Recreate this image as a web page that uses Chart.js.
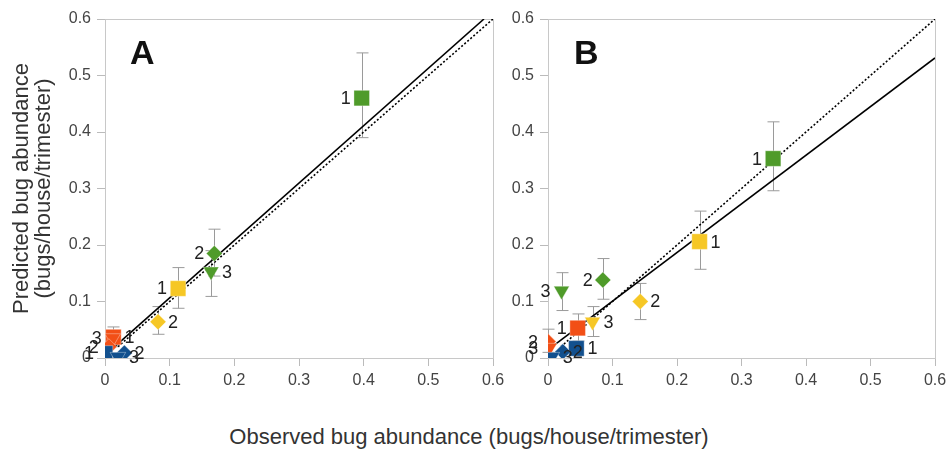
<!DOCTYPE html>
<html>
<head>
<meta charset="utf-8">
<script src="https://cdn.jsdelivr.net/npm/chart.js@4"></script>
<style>
  body { margin: 0; background: #fff; width: 947px; height: 451px; overflow: hidden; position: relative;
         font-family: "Liberation Sans", Arial, sans-serif; }
  canvas { position: absolute; top: 0; }
  #chartA { left: 0; }
  #chartB { left: 440px; }
  .panel { position: absolute; font-weight: bold; font-size: 34px; line-height: 34px; color: #111; }
  #xtitle { position: absolute; left: 0; width: 938px; top: 426px; text-align: center;
            font-size: 22px; line-height: 22px; color: #333; }
</style>
</head>
<body>
<canvas id="chartA" width="520" height="400"></canvas>
<canvas id="chartB" width="507" height="400"></canvas>
<div class="panel" style="left:130px;top:35px">A</div>
<div class="panel" style="left:574px;top:35px">B</div>
<div id="xtitle">Observed bug abundance (bugs/house/trimester)</div>

<script>
// ---- panel A ----
const aObs   = [0.397, 0.169, 0.164, 0.113, 0.082, 0.013, 0.012, 0.006, 0.000, 0.030, 0.020];
const aPred  = [0.460, 0.185, 0.153, 0.123, 0.064, 0.037, 0.035, 0.020, 0.008, 0.009, 0.002];
const aLow   = [0.390, 0.145, 0.109, 0.088, 0.042, 0.020, null, null, null, null, null];
const aHigh  = [0.540, 0.228, 0.190, 0.160, 0.091, 0.055, null, null, null, null, null];
const aGroup = ['green', 'green', 'green', 'yellow', 'yellow', 'orange', 'orange', 'orange', 'blue', 'blue', 'blue'];
const aKind  = [1, 2, 3, 1, 2, 1, 3, 2, 1, 2, 3];
const aSide  = ['l', 'l', 'r', 'l', 'r', 'r', 'l', 'l', 'l', 'r', 'r'];
const aFitX  = [0.015, 0.586];
const aFitY  = [0.020, 0.600];

// ---- panel B ----
const bObs   = [0.349, 0.085, 0.021, 0.235, 0.143, 0.069, 0.046, 0.000, 0.002, 0.044, 0.023, 0.006];
const bPred  = [0.353, 0.138, 0.119, 0.206, 0.100, 0.064, 0.053, 0.029, 0.018, 0.017, 0.011, 0.002];
const bLow   = [0.296, 0.104, 0.084, 0.157, 0.068, 0.038, 0.030, 0.010, null, null, null, null];
const bHigh  = [0.418, 0.176, 0.151, 0.260, 0.132, 0.091, 0.078, 0.051, null, null, null, null];
const bGroup = ['green', 'green', 'green', 'yellow', 'yellow', 'yellow', 'orange', 'orange', 'orange', 'blue', 'blue', 'blue'];
const bKind  = [1, 2, 3, 1, 2, 3, 1, 2, 3, 1, 2, 3];
const bSide  = ['l', 'l', 'l', 'r', 'r', 'r', 'l', 'l', 'l', 'r', 'r', 'r'];
const bFitX  = [0.005, 0.600];
const bFitY  = [0.019, 0.531];

// 1:1 line, both panels
const oneX = [0.02, 0.60];
const oneY = [0.02, 0.60];

const COLOUR = { green: '#4f9b2a', yellow: '#f6c725', orange: '#f24f16', blue: '#12508e' };
// kind 1 = square, 2 = diamond, 3 = triangle (down)
const KIND = {
    1: { style: 'rect',     r: 11, rot: 0,   gap: 11 },
    2: { style: 'rectRot',  r: 8,  rot: 0,   gap: 10 },
    3: { style: 'triangle', r: 9,  rot: 180, gap: 11 }
};

const pts = (xs, ys) => xs.map((x, i) => ({ x: x, y: ys[i] }));

// frame, error bars and the small numbers next to the points
const extras = {
    id: 'extras',
    beforeDatasetsDraw(chart) {
        const { ctx, chartArea: a, scales } = chart;
        const o = chart.options.plugins.extras;
        ctx.save();
        ctx.strokeStyle = '#c8c8c8';
        ctx.lineWidth = 1;
        ctx.strokeRect(Math.round(a.left) + 0.5, Math.round(a.top) + 0.5,
                       Math.round(a.right - a.left), Math.round(a.bottom - a.top));
        ctx.strokeStyle = '#9a9a9a';
        o.low.forEach((lo, i) => {
            if (lo === null) return;
            const x = Math.round(scales.x.getPixelForValue(o.obs[i])) + 0.5;
            const y1 = scales.y.getPixelForValue(lo);
            const y2 = scales.y.getPixelForValue(o.high[i]);
            ctx.beginPath();
            ctx.moveTo(x, y1); ctx.lineTo(x, y2);
            ctx.moveTo(x - 6, y1); ctx.lineTo(x + 6, y1);
            ctx.moveTo(x - 6, y2); ctx.lineTo(x + 6, y2);
            ctx.stroke();
        });
        ctx.restore();
    },
    afterDatasetsDraw(chart) {
        const { ctx, scales } = chart;
        const o = chart.options.plugins.extras;
        ctx.save();
        ctx.font = '18px "Liberation Sans", Arial, sans-serif';
        ctx.fillStyle = '#222';
        ctx.textBaseline = 'middle';
        o.kind.forEach((k, i) => {
            const x = scales.x.getPixelForValue(o.obs[i]);
            const y = scales.y.getPixelForValue(o.pred[i]);
            const g = KIND[k].gap;
            if (o.side[i] === 'l') { ctx.textAlign = 'right'; ctx.fillText(String(k), x - g, y + 1); }
            else { ctx.textAlign = 'left'; ctx.fillText(String(k), x + g, y + 1); }
        });
        ctx.restore();
    }
};

// no automatic room for overflowing tick labels, the layout padding decides
function noPad(s) { s.paddingLeft = 0; s.paddingRight = 0; s.paddingTop = 0; s.paddingBottom = 0; }

function makeChart(id, d, yWidth, padRight, yTitle) {
    const tickFont = { family: '"Liberation Sans", Arial, sans-serif', size: 16 };
    return new Chart(document.getElementById(id), {
        type: 'scatter',
        data: {
            datasets: [
                {
                    type: 'line', data: pts(d.fitX, d.fitY), order: 3,
                    borderColor: '#000', borderWidth: 1.6, pointRadius: 0
                },
                {
                    type: 'line', data: pts(oneX, oneY), order: 2,
                    borderColor: '#000', borderWidth: 1.6, borderDash: [2, 2], pointRadius: 0
                },
                {
                    data: pts(d.obs, d.pred), order: 1,
                    pointStyle: d.kind.map(k => KIND[k].style),
                    pointRadius: d.kind.map(k => KIND[k].r),
                    rotation: d.kind.map(k => KIND[k].rot),
                    backgroundColor: d.group.map(g => COLOUR[g]),
                    borderColor: 'rgba(255,255,255,0.35)',
                    borderWidth: 1
                }
            ]
        },
        plugins: [extras],
        options: {
            responsive: false,
            animation: false,
            devicePixelRatio: 1,
            layout: { padding: { top: 19, right: padRight, bottom: 0, left: 0 } },
            plugins: {
                legend: { display: false },
                tooltip: { enabled: false },
                extras: d
            },
            scales: {
                x: {
                    type: 'linear', min: 0, max: 0.6,
                    border: { display: false },
                    grid: { drawOnChartArea: false, tickLength: 8, color: '#bbb' },
                    ticks: { stepSize: 0.1, color: '#444', font: tickFont, padding: 5, maxRotation: 0,
                             callback: v => v === 0 ? '0' : v.toFixed(1) },
                    afterFit(s) { s.height = 42; noPad(s); }
                },
                y: {
                    type: 'linear', min: 0, max: 0.6,
                    border: { display: false },
                    grid: { drawOnChartArea: false, tickLength: 8, color: '#bbb' },
                    ticks: { stepSize: 0.1, color: '#444', font: tickFont, padding: 6,
                             callback: v => v === 0 ? '0' : v.toFixed(1) },
                    title: {
                        display: !!yTitle, text: yTitle || '', color: '#333',
                        font: { family: '"Liberation Sans", Arial, sans-serif', size: 22, lineHeight: 1 },
                        padding: { top: 11, bottom: 0 }
                    },
                    afterFit(s) { s.width = yWidth; noPad(s); }
                }
            }
        }
    });
}

makeChart('chartA', {
    obs: aObs, pred: aPred, low: aLow, high: aHigh, group: aGroup, kind: aKind, side: aSide,
    fitX: aFitX, fitY: aFitY
}, 105, 27, ['Predicted bug abundance', '(bugs/house/trimester)']);

makeChart('chartB', {
    obs: bObs, pred: bPred, low: bLow, high: bHigh, group: bGroup, kind: bKind, side: bSide,
    fitX: bFitX, fitY: bFitY
}, 108, 11, null);
</script>
</body>
</html>
